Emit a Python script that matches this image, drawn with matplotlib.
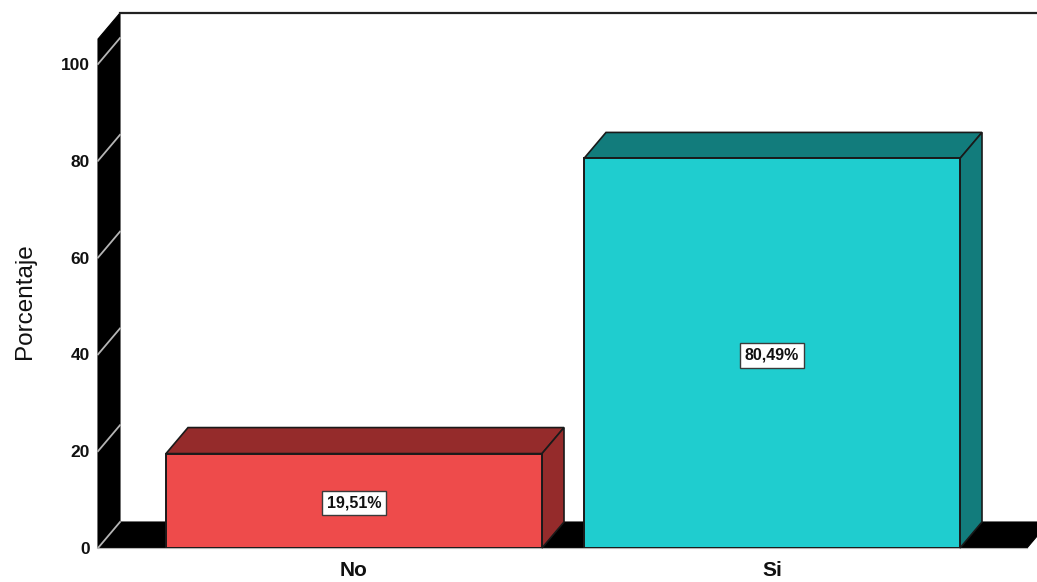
import matplotlib
matplotlib.use("Agg")
import matplotlib.pyplot as plt
from matplotlib.patches import Polygon

categories = ["No", "Si"]
percentages = [19.51, 80.49]
value_labels = ["19,51%", "80,49%"]
y_ticks = [0, 20, 40, 60, 80, 100]
front_colors = ["#EE4B4B", "#1FCDCF"]
top_colors = ["#952B2B", "#127C7C"]
y_label = "Porcentaje"

W, H = 1037, 582
PX_X = 418.0       # pixels per category
PX_Y = 4.84        # pixels per percent
LEFT, BASE, TOP = 98, 548, 39
DX = 22 / PX_X     # depth of the 3D effect
DY = 26 / PX_Y
YMAX = (BASE - TOP) / PX_Y
XMIN = (LEFT - 354) / PX_X
XMAX = (W - 354) / PX_X
BAR_W = 376 / PX_X
FLOOR_END = (1027 - 354) / PX_X

plt.rcParams["font.family"] = ["Liberation Sans", "DejaVu Sans"]
fig = plt.figure(figsize=(W / 100, H / 100), dpi=100)
ax = fig.add_axes([LEFT / W, (H - BASE) / H, (W - LEFT) / W, (BASE - TOP) / H])
ax.set_xlim(XMIN, XMAX)
ax.set_ylim(0, YMAX)
for s in ax.spines.values():
    s.set_visible(False)

def poly(pts, fc, ec="#1a1a1a", lw=1.2, z=2):
    ax.add_patch(Polygon(pts, closed=True, facecolor=fc, edgecolor=ec, linewidth=lw,
                         zorder=z, clip_on=False, joinstyle="miter"))

# wall and floor
poly([(XMIN, 0), (XMIN + DX, DY), (XMIN + DX, YMAX + DY), (XMIN, YMAX)], "black", "black", 0.8, 1)
poly([(XMIN, 0), (FLOOR_END, 0), (FLOOR_END + DX, DY), (XMIN + DX, DY)], "black", "black", 0.8, 1)
ax.plot([XMIN + DX, XMAX], [YMAX + DY, YMAX + DY], color="#222222", lw=1.6, clip_on=False, zorder=1)
for t in y_ticks:
    ax.plot([XMIN, XMIN + DX], [t, t + DY], color="#b5b5b5", lw=1.3, clip_on=False, zorder=1.5)
ax.plot([XMIN, FLOOR_END], [0, 0], color="#b5b5b5", lw=0.8, clip_on=False, zorder=1.5)

# bars
xs = list(range(len(categories)))
ax.bar(xs, percentages, width=BAR_W, color=front_colors, edgecolor="#1a1a1a", linewidth=1.4, zorder=3)
for x, v, tc, lab in zip(xs, percentages, top_colors, value_labels):
    l, r = x - BAR_W / 2, x + BAR_W / 2
    poly([(l, v), (r, v), (r + DX, v + DY), (l + DX, v + DY)], tc)
    poly([(r, 0), (r + DX, DY), (r + DX, v + DY), (r, v)], tc)
    ax.annotate(lab, (x, v / 2), xytext=(0, -1.5), textcoords="offset points",
                ha="center", va="center", fontsize=11.5, fontweight="bold",
                color="#111111", zorder=5,
                bbox=dict(boxstyle="square,pad=0.3", fc="white", ec="#3a3a3a", lw=1.0))

ax.set_xticks(xs, categories, fontsize=15, fontweight="bold", color="#111111")
ax.set_yticks(y_ticks, [str(t) for t in y_ticks], fontsize=12.5, fontweight="bold", color="#111111")
ax.tick_params(axis="x", length=0, pad=9)
ax.tick_params(axis="y", length=0, pad=6)
fig.text(25 / W, 1 - 301 / H, y_label, rotation=90, ha="center", va="center",
         fontsize=17.5, color="#111111")
fig.savefig("out.png", dpi=100)
